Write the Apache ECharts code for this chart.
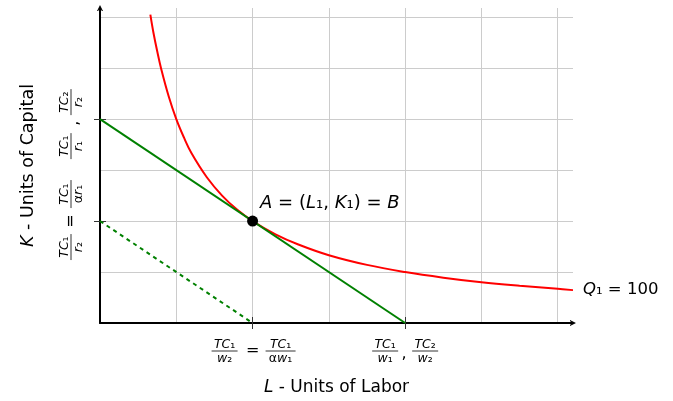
<!DOCTYPE html>
<html><head><meta charset="utf-8">
<script src="https://cdn.jsdelivr.net/npm/echarts@6/dist/echarts.min.js"></script>
<style>html,body{margin:0;padding:0;background:#fff}#c{width:673px;height:401px}</style>
</head><body><div id="c"></div>
<script>
// ---- data ----
const curveL = [0.66, 0.70, 0.75, 0.80, 0.90, 1.00, 1.10, 1.20, 1.40, 1.60, 1.80, 2.00, 2.30, 2.60, 3.00, 3.50, 4.00, 4.50, 5.00, 5.50, 6.00, 6.20];
const curveK = [6.05, 5.70, 5.33, 5.00, 4.45, 4.00, 3.64, 3.33, 2.86, 2.50, 2.22, 2.00, 1.74, 1.54, 1.33, 1.14, 1.00, 0.89, 0.80, 0.73, 0.67, 0.645];
const budgetL = [0, 4], budgetK = [4, 0];
const dashedL = [0, 2], dashedK = [2, 0];
const pointA = [2, 2];
const labelTicksX = [2, 4];
const labelTicksY = [2, 4];

const FONT = '"DejaVu Sans", sans-serif';
const chart = echarts.init(document.getElementById('c'), null, {renderer: 'canvas'});
const zip = (a, b) => a.map((v, i) => [v, b[i]]);
const arrowPath = 'path://M0,10 L5,0 L10,10 L8,10 L5,4 L2,10 Z';
const XMAX = 6.2, YMAX = 6.18;

function tickAxis(extra, inside) {
  return Object.assign({
    type: 'value', min: 0, interval: 1,
    axisLine: {show: false, onZero: false},
    axisTick: {show: true, inside: inside, length: 6, customValues: labelTicksX, lineStyle: {color: '#333', width: 1}},
    axisLabel: {show: false}, splitLine: {show: false}
  }, extra);
}

chart.setOption({
  animation: false,
  grid: {left: 100, right: 673 - 573, top: 8, bottom: 401 - 323},
  xAxis: [{
    type: 'value', min: 0, max: XMAX, interval: 1,
    axisLine: {show: true, onZero: false, symbol: ['none', arrowPath], symbolSize: [10, 6], lineStyle: {color: '#000', width: 2}},
    axisTick: {show: false},
    axisLabel: {show: false},
    splitLine: {show: true, showMaxLine: false, lineStyle: {color: '#cccccc', width: 1}},
    name: '{i|L} - Units of Labor', nameLocation: 'middle', nameGap: 56,
    nameTextStyle: {fontFamily: FONT, fontSize: 17, color: '#000', verticalAlign: 'top',
      rich: {i: {fontStyle: 'italic', fontFamily: FONT, fontSize: 17, color: '#000'}}}
  },
  tickAxis({max: XMAX, position: 'bottom'}, false),
  tickAxis({max: XMAX, position: 'bottom'}, true)],
  yAxis: [{
    type: 'value', min: 0, max: YMAX, interval: 1,
    axisLine: {show: true, onZero: false, symbol: ['none', arrowPath], symbolSize: [10, 6], lineStyle: {color: '#000', width: 2}},
    axisTick: {show: false},
    axisLabel: {show: false},
    splitLine: {show: true, showMaxLine: false, lineStyle: {color: '#cccccc', width: 1}},
    name: '{i|K} - Units of Capital', nameLocation: 'middle', nameGap: 63, nameRotate: 90,
    nameTextStyle: {fontFamily: FONT, fontSize: 17.5, color: '#000',
      rich: {i: {fontStyle: 'italic', fontFamily: FONT, fontSize: 17.5, color: '#000'}}}
  },
  tickAxis({max: YMAX, position: 'left', axisTick: {show: true, inside: false, length: 6, customValues: labelTicksY, lineStyle: {color: '#333', width: 1}}}, false),
  tickAxis({max: YMAX, position: 'left', axisTick: {show: true, inside: true, length: 6, customValues: labelTicksY, lineStyle: {color: '#333', width: 1}}}, true)],
  series: [
    {
      type: 'line', data: zip(dashedL, dashedK), showSymbol: false, z: 2,
      lineStyle: {color: '#008000', width: 2, type: [4, 4]}
    },
    {
      type: 'line', data: zip(curveL, curveK), showSymbol: false, smooth: 0.4, z: 3,
      lineStyle: {color: '#ff0000', width: 2},
      endLabel: {show: true, distance: 10, formatter: '{i|Q}₁ = 100', fontFamily: FONT, fontSize: 16.5, color: '#000',
        rich: {i: {fontStyle: 'italic', fontFamily: FONT, fontSize: 16.5, color: '#000'}}}
    },
    {
      type: 'line', data: zip(budgetL, budgetK), showSymbol: false, z: 4,
      lineStyle: {color: '#008000', width: 2}
    },
    {
      type: 'scatter', data: [pointA], symbolSize: 11, z: 5,
      itemStyle: {color: '#000', opacity: 1},
      label: {show: true, position: 'right', offset: [-3, -18], fontFamily: FONT, fontSize: 18, color: '#000',
        formatter: '{i|A} = ({i|L}₁, {i|K}₁) = {i|B}',
        rich: {i: {fontStyle: 'italic', fontFamily: FONT, fontSize: 18, color: '#000'}}}
    }
  ]
});

// ---- fraction tick labels ----
const FS = 12.5;
function txt(str, x, y) {
  return {type: 'text', x: x, y: y, style: {text: str, fontFamily: FONT, fontSize: FS, fill: '#000', align: 'center', verticalAlign: 'middle',
    rich: {i: {fontStyle: 'italic', fontFamily: FONT, fontSize: FS, fill: '#000'}, s: {fontFamily: FONT, fontSize: FS, fill: '#000'}}}};
}
function frac(num, den, cx, w) {
  return [
    txt(num, cx, -6.5),
    {type: 'line', shape: {x1: cx - w / 2, y1: 0, x2: cx + w / 2, y2: 0}, style: {stroke: '#000', lineWidth: 0.8}},
    txt(den, cx, 7.5)
  ];
}
function sym(s, cx, cy) {
  return {type: 'text', x: cx, y: cy, style: {text: s, fontFamily: FONT, fontSize: 16, fill: '#000', align: 'center', verticalAlign: 'middle'}};
}
const TC1 = '{i|TC}{s|₁}', TC2 = '{i|TC}{s|₂}';
const xLab2 = [].concat(frac(TC1, '{i|w}{s|₂}', -28, 26), [sym('=', 0, 0)], frac(TC1, 'α{i|w}{s|₁}', 28, 30));
const xLab4 = [].concat(frac(TC1, '{i|w}{s|₁}', -20, 26), [sym(',', -1, 3)], frac(TC2, '{i|w}{s|₂}', 20, 26));
const yLab2 = [].concat(frac(TC1, '{i|r}{s|₂}', -26, 26), [sym('=', 0, 0)], frac(TC1, 'α{i|r}{s|₁}', 27, 28));
const yLab4 = [].concat(frac(TC1, '{i|r}{s|₁}', -27, 26), [sym(',', -4, 3)], frac(TC2, '{i|r}{s|₂}', 17, 26));

const px2 = chart.convertToPixel({gridIndex: 0}, [labelTicksX[0], 0]);
const px4 = chart.convertToPixel({gridIndex: 0}, [labelTicksX[1], 0]);
const py2 = chart.convertToPixel({gridIndex: 0}, [0, labelTicksY[0]]);
const py4 = chart.convertToPixel({gridIndex: 0}, [0, labelTicksY[1]]);

chart.setOption({
  graphic: [
    {type: 'group', x: px2[0], y: px2[1] + 28, children: xLab2},
    {type: 'group', x: px4[0], y: px4[1] + 28, children: xLab4},
    {type: 'group', x: py2[0] - 29, y: py2[1], rotation: Math.PI / 2, children: yLab2},
    {type: 'group', x: py4[0] - 29, y: py4[1], rotation: Math.PI / 2, children: yLab4}
  ]
});
</script>
</body></html>
